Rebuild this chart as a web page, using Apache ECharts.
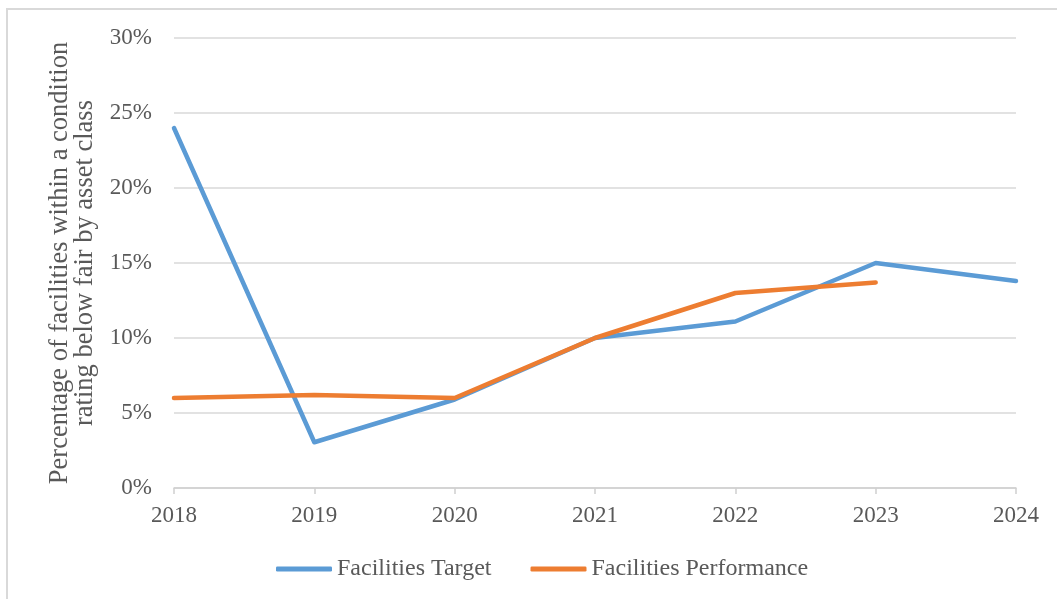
<!DOCTYPE html>
<html><head><meta charset="utf-8">
<script src="https://cdn.jsdelivr.net/npm/echarts@6/dist/echarts.min.js"></script>
<style>html,body{margin:0;padding:0;background:#fff;overflow:hidden}#c{width:1057px;height:599px}
#frame{position:absolute;left:6px;top:8px;width:1100px;height:700px;border-left:2px solid #d9d9d9;border-top:2px solid #d9d9d9;box-sizing:border-box;pointer-events:none}</style>
</head><body><div id="c"></div><div id="frame"></div>
<script>
const years = ['2018','2019','2020','2021','2022','2023','2024'];
const targetValues = [24, 3.05, 5.9, 10, 11.1, 15, 13.8];
const performanceValues = [6, 6.2, 6, 10, 13, 13.7, null];
const yTicks = [0, 5, 10, 15, 20, 25, 30];
const txt = '#595959';
const font = '"Liberation Serif","Times New Roman",serif';
const chart = echarts.init(document.getElementById('c'));
chart.setOption({
  animation: false,
  grid: {left: 174, right: 41, top: 38, bottom: 111, containLabel: false},
  legend: {
    top: 552, left: 271, itemWidth: 56, itemHeight: 5, itemGap: 39,
    icon: 'roundRect',
    textStyle: {color: txt, fontFamily: font, fontSize: 24},
    data: ['Facilities Target', 'Facilities Performance']
  },
  xAxis: {
    type: 'category', data: years, boundaryGap: false,
    axisLine: {lineStyle: {color: '#d0d0d0', width: 1.5}},
    axisTick: {show: true, length: 6, lineStyle: {color: '#d0d0d0', width: 1.5}},
    axisLabel: {color: txt, fontFamily: font, fontSize: 23, margin: 16}
  },
  yAxis: {
    type: 'value', min: 0, max: 30, interval: 5,
    name: 'Percentage of facilities within a condition\nrating below fair by asset class',
    nameLocation: 'middle', nameGap: 76, nameRotate: 90,
    nameTextStyle: {color: txt, fontFamily: font, fontSize: 26.5, lineHeight: 25},
    axisLine: {show: false}, axisTick: {show: false},
    splitLine: {lineStyle: {color: '#d9d9d9', width: 1.5}},
    axisLabel: {color: txt, fontFamily: font, fontSize: 23, margin: 22, padding: [4, 0, 0, 0], formatter: v => yTicks.includes(v) ? v + '%' : ''}
  },
  series: [
    {name: 'Facilities Target', type: 'line', data: targetValues, showSymbol: false, symbol: 'none',
     lineStyle: {color: '#5B9BD5', width: 4.5, cap: 'round', join: 'round'}, itemStyle: {color: '#5B9BD5'}},
    {name: 'Facilities Performance', type: 'line', data: performanceValues, showSymbol: false, symbol: 'none',
     lineStyle: {color: '#ED7D31', width: 4.5, cap: 'round', join: 'round'}, itemStyle: {color: '#ED7D31'}}
  ]
});
</script></body></html>
